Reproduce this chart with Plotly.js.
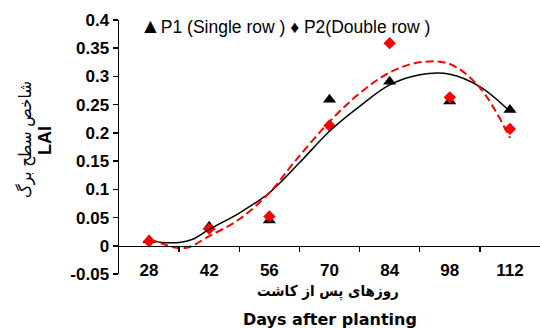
<!DOCTYPE html>
<html>
<head>
<meta charset="utf-8">
<script src="https://cdn.plot.ly/plotly-3.0.1.min.js"></script>
<style>html,body{margin:0;padding:0;background:#fff;}</style>
</head>
<body>
<div id="chart" style="width:540px;height:328px;"></div>
<script>
// Sampling days (categories)
const days = [28, 42, 56, 70, 84, 98, 112];
const dayLabels = ["28", "42", "56", "70", "84", "98", "112"];
// Observed LAI
const p1Values = [0.010, 0.034, 0.045, 0.259, 0.291, 0.256, 0.241];
const p2Values = [0.008, 0.030, 0.052, 0.213, 0.359, 0.263, 0.207];
// Trend lines
const p1FitDays = [28, 31, 35, 38, 42, 49, 56, 63, 70, 77, 84, 91, 98, 105, 112];
const p1FitValues = [0.010, 0.006, 0.006, 0.011, 0.029, 0.058, 0.094, 0.147, 0.203, 0.247, 0.285, 0.303, 0.304, 0.282, 0.238];
const p2FitDays = [28, 31, 34, 37, 42, 49, 56, 62, 70, 77, 84, 91, 98, 105, 112];
const p2FitValues = [0.012, 0.004, -0.003, -0.003, 0.017, 0.047, 0.094, 0.150, 0.220, 0.270, 0.307, 0.325, 0.322, 0.280, 0.191];
// Axis ticks
const yTicks = [-0.05, 0, 0.05, 0.1, 0.15, 0.2, 0.25, 0.3, 0.35, 0.4];
const yTickText = ["-0.05", "0", "0.05", "0.1", "0.15", "0.2", "0.25", "0.3", "0.35", "0.4"];
const xBoundaries = [35, 49, 63, 77, 91, 105];

const latin = "Liberation Sans, Arial, sans-serif";
const persian = "DejaVu Sans Condensed, DejaVu Sans, sans-serif";

const traces = [
  {x: days, y: p1Values, type: "scatter", mode: "markers", name: "P1 (Single row )",
   marker: {symbol: "triangle-up", size: 11.5, color: "#000000"}, cliponaxis: false},
  {x: days, y: p2Values, type: "scatter", mode: "markers", name: "P2(Double row )",
   marker: {symbol: "diamond", size: 9.5, color: "#FF0000"}, cliponaxis: false},
  {x: p1FitDays, y: p1FitValues, type: "scatter", mode: "lines",
   line: {color: "#000000", width: 1.5, shape: "spline"}, hoverinfo: "skip"},
  {x: p2FitDays, y: p2FitValues, type: "scatter", mode: "lines",
   line: {color: "#FF0000", width: 2, dash: "8px,4px", shape: "spline"}, hoverinfo: "skip"}
];

const layout = {
  width: 540, height: 328,
  margin: {l: 119, r: 0, t: 20, b: 54},
  paper_bgcolor: "#ffffff", plot_bgcolor: "#ffffff",
  showlegend: false,
  xaxis: {
    type: "linear", range: [21, 119], anchor: "free", position: 1/9,
    showline: true, linecolor: "#000000", linewidth: 1.5,
    showgrid: false, zeroline: false,
    tickmode: "array", tickvals: days, ticktext: dayLabels, ticks: "",
    ticklabelstandoff: 8,
    tickfont: {family: latin, size: 17, color: "#000000", weight: "bold"},
    minor: {tickmode: "array", tickvals: xBoundaries, ticks: "outside", ticklen: 5,
            tickwidth: 1.5, tickcolor: "#000000", showgrid: false}
  },
  yaxis: {
    range: [-0.05, 0.4], showline: true, linecolor: "#000000", linewidth: 1.5,
    showgrid: false, zeroline: false,
    tickmode: "array", tickvals: yTicks, ticktext: yTickText,
    ticks: "outside", ticklen: 5, tickwidth: 1.5, tickcolor: "#000000",
    tickfont: {family: latin, size: 17, color: "#000000", weight: "bold"}
  },
  annotations: [
    {text: "<span style=\"font-size:21px\">▲</span>P1 (Single row ) ♦ P2(Double row )", xref: "paper", yref: "paper",
     x: 0.0451, y: 0.980, xanchor: "left", yanchor: "middle", showarrow: false,
     font: {family: latin, size: 17.5, color: "#000000"}},
    {text: "شاخص سطح برگ", xref: "paper", yref: "paper", x: -0.2209, y: 0.5276,
     textangle: -90, xanchor: "center", yanchor: "middle", showarrow: false,
     font: {family: persian, size: 17, color: "#000000"}},
    {text: "LAI", xref: "paper", yref: "paper", x: -0.176, y: 0.5276,
     textangle: -90, xanchor: "center", yanchor: "middle", showarrow: false,
     font: {family: latin, size: 18, color: "#000000", weight: "bold"}},
    {text: "روزهای پس از کاشت", xref: "paper", yref: "paper", x: 0.4976, y: -0.067,
     xanchor: "center", yanchor: "middle", showarrow: false,
     font: {family: persian, size: 15, color: "#000000", weight: "bold"}},
    {text: "Days after planting", xref: "paper", yref: "paper", x: 0.5012, y: -0.1811,
     xanchor: "center", yanchor: "middle", showarrow: false,
     font: {family: "DejaVu Sans, sans-serif", size: 16, color: "#000000", weight: "bold"}}
  ]
};

Plotly.newPlot("chart", traces, layout, {displayModeBar: false, staticPlot: true});
</script>
</body>
</html>
